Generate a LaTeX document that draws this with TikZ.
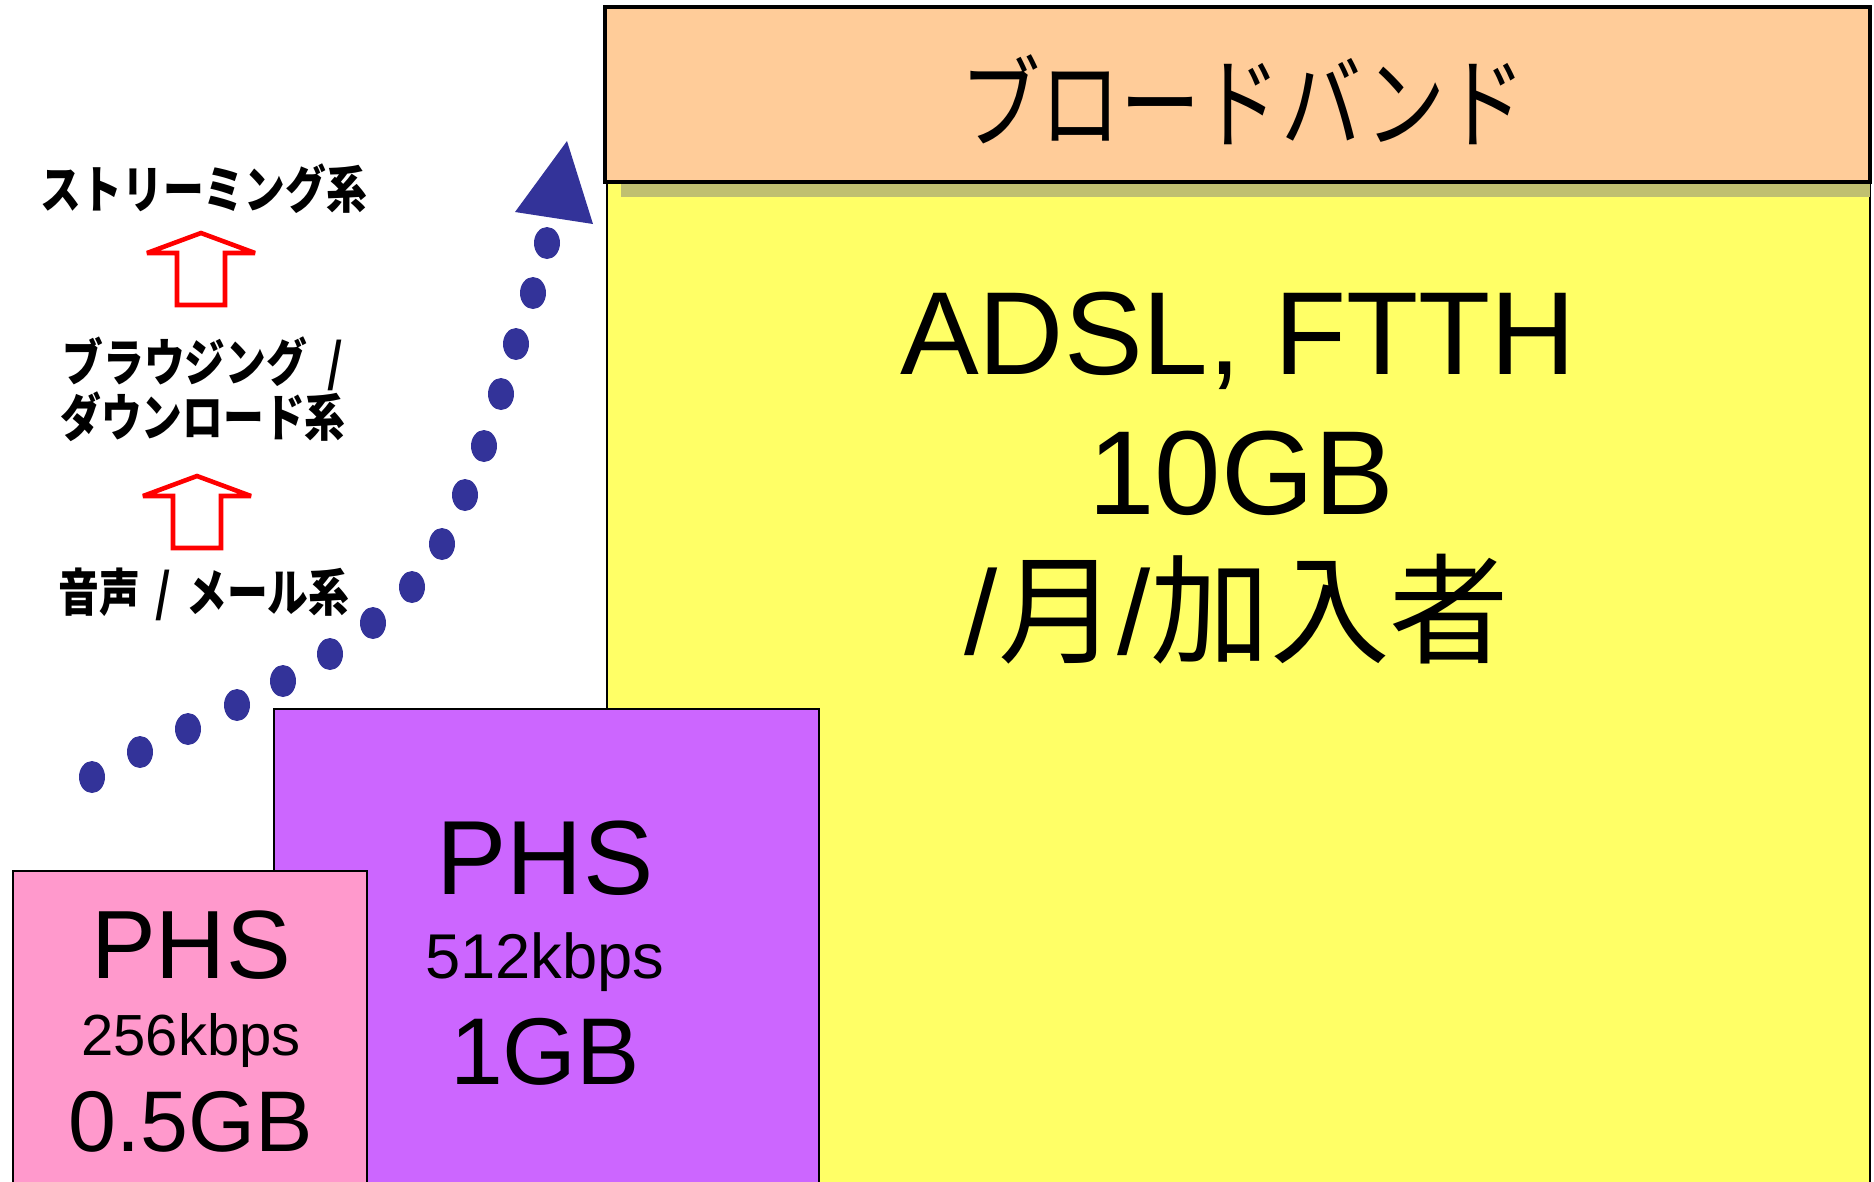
\documentclass[tikz,border=0pt]{standalone}
\usepackage{fontspec}
\setmainfont{Liberation Sans}
\newfontfamily\jp{Noto Sans CJK JP}
\newfontfamily\jpnarrow[FakeStretch=0.8]{Noto Sans CJK JP}
\newfontfamily\jplabel[FakeStretch=0.8]{Noto Sans CJK JP}

\definecolor{bandorange}{HTML}{FFCC99}
\definecolor{bandyellow}{HTML}{FFFF66}
\definecolor{bandshadow}{HTML}{C0C070}
\definecolor{phspurple}{HTML}{CC66FF}
\definecolor{phspink}{HTML}{FF99CC}
\definecolor{dotblue}{HTML}{333399}

\newcommand{\sep}{\hspace{0.3em}/\hspace{0.3em}}

\tikzset{
  box/.style={draw=black, line width=0.5pt},
  txt/.style={inner sep=0pt, anchor=base},
  kind/.style={inner sep=0pt, align=center, font=\jplabel\bfseries\fontsize{14.5}{15.6}\selectfont},
  hollowup/.style={draw=red, line width=1.3pt, line join=miter, miter limit=2},
}

\begin{document}
\begin{tikzpicture}[x=0.1mm,y=-0.1mm]
	\useasboundingbox (0,0) rectangle (1874,1181);
	% broadband column with its header
	\draw[box, fill=bandyellow] (607,100) rectangle (1870,1195);
	\fill[bandshadow] (621,30) rectangle (1870,197);
	\draw[box, line width=0.9pt, fill=bandorange] (605,7) rectangle (1870,182);
	\node[inner sep=0pt, font=\jpnarrow\fontsize{28.5}{28.5}\selectfont] (title) at (1243,100) {ブロードバンド};
	\node[txt, font=\fontsize{33.6}{33.6}\selectfont] (adsl) at (1238,374) {ADSL, FTTH};
	\node[txt, font=\fontsize{34}{34}\selectfont] (volC) at (1241,514) {10GB};
	\node[txt, font=\fontsize{34}{34}\selectfont] (unit) at (1237,654) {/{\jp 月}/{\jp 加入者}};
	% PHS 512k
	\draw[box, fill=phspurple] (274,709) rectangle (819,1195);
	\node[txt, font=\fontsize{30}{30}\selectfont] (phsB) at (545,894) {PHS};
	\node[txt, font=\fontsize{18}{18}\selectfont] (rateB) at (545,978) {512kbps};
	\node[txt, font=\fontsize{27}{27}\selectfont] (volB) at (545,1084) {1GB};
	% PHS 256k
	\draw[box, fill=phspink] (13,871) rectangle (367,1195);
	\node[txt, font=\fontsize{27.6}{27.6}\selectfont] (phsA) at (191,978) {PHS};
	\node[txt, font=\fontsize{16.5}{16.5}\selectfont] (rateA) at (191,1055) {256kbps};
	\node[txt, font=\fontsize{24.5}{24.5}\selectfont] (volA) at (191,1151) {0.5GB};
	% usage steps
	\node[kind] (stream) at (204,189) {ストリーミング系};
	\node[kind] (browse) at (203,389) {ブラウジング\hspace{0.4em}/\\ダウンロード系};
	\node[kind] (voice) at (204,594) {音声\sep メール系};
	\foreach \x/\y in {201/233,197/476}
		\draw[hollowup] (\x,\y) -- ++(54,20) -- ++(-30,0) -- ++(0,52) -- ++(-48,0) -- ++(0,-52) -- ++(-30,0) -- cycle;
	% dotted growth curve
	\foreach \p in {(92,777),(140,752),(188,729),(237,705),(283,681),(330,654),(373,623),(412,587),(442,544),(465,495),(484,446),(501,394),(516,344),(533,293),(547,243)}
		\fill[dotblue] \p ellipse [x radius=1.3mm, y radius=1.6mm];
	\fill[dotblue] (515,212) -- (567,141) -- (593,224) -- cycle;
\end{tikzpicture}
\end{document}
